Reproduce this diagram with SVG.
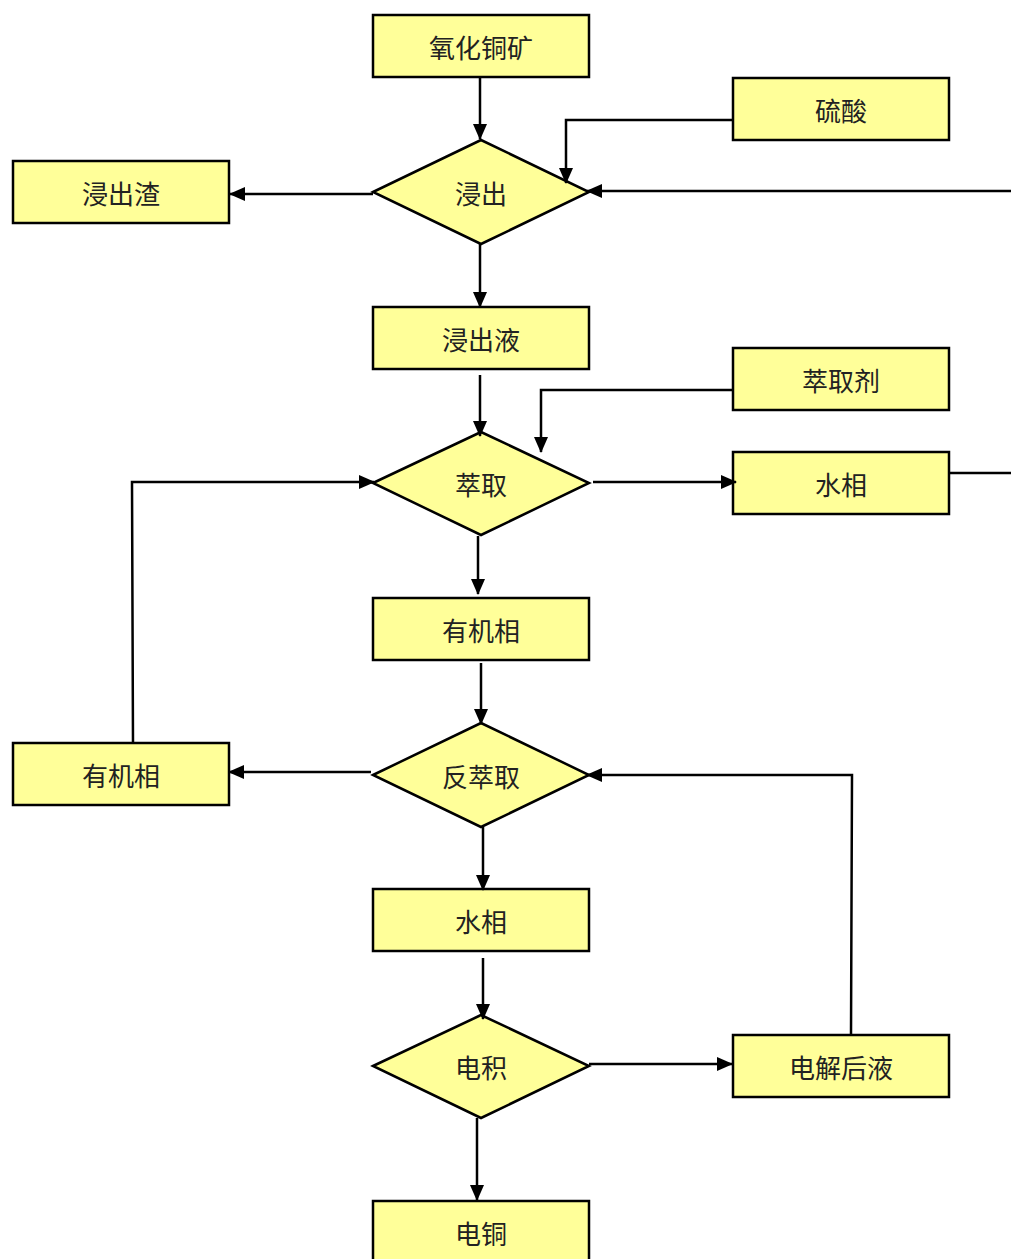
<svg xmlns="http://www.w3.org/2000/svg" width="1011" height="1259" viewBox="0 0 1011 1259">
<style>
.n{fill:#FFFF99;stroke:#000;stroke-width:2.5}
.t{font-family:"Noto Sans CJK SC",sans-serif;font-size:26px;fill:#222;text-anchor:middle;dominant-baseline:central}
.c{fill:none;stroke:#000;stroke-width:2.5}
</style>
<defs>
<marker id="a" markerUnits="userSpaceOnUse" markerWidth="16" markerHeight="14" refX="15" refY="7" orient="auto">
<path d="M0,0 L16,7 L0,14 Z" fill="#000"/>
</marker>
</defs>
<rect width="1011" height="1259" fill="#fff"/>
<g id="nodes">
<g id="n1"><rect class="n" x="373" y="15" width="216" height="62"/><text class="t" x="481" y="46">氧化铜矿</text></g>
<g id="n2"><rect class="n" x="733" y="78" width="216" height="62"/><text class="t" x="841" y="109">硫酸</text></g>
<g id="n3"><polygon class="n" points="373,192 481,140 589,192 481,244"/><text class="t" x="481" y="192">浸出</text></g>
<g id="n4"><rect class="n" x="13" y="161" width="216" height="62"/><text class="t" x="121" y="192">浸出渣</text></g>
<g id="n5"><rect class="n" x="373" y="307" width="216" height="62"/><text class="t" x="481" y="338">浸出液</text></g>
<g id="n6"><rect class="n" x="733" y="348" width="216" height="62"/><text class="t" x="841" y="379">萃取剂</text></g>
<g id="n7"><polygon class="n" points="373,483 481,432 589,483 481,535"/><text class="t" x="481" y="483">萃取</text></g>
<g id="n8"><rect class="n" x="733" y="452" width="216" height="62"/><text class="t" x="841" y="483">水相</text></g>
<g id="n9"><rect class="n" x="373" y="598" width="216" height="62"/><text class="t" x="481" y="629">有机相</text></g>
<g id="n10"><rect class="n" x="13" y="743" width="216" height="62"/><text class="t" x="121" y="774">有机相</text></g>
<g id="n11"><polygon class="n" points="373,775 481,723 589,775 481,827"/><text class="t" x="481" y="775">反萃取</text></g>
<g id="n12"><rect class="n" x="373" y="889" width="216" height="62"/><text class="t" x="481" y="920">水相</text></g>
<g id="n13"><polygon class="n" points="373,1066 481,1015 589,1066 481,1118"/><text class="t" x="481" y="1066">电积</text></g>
<g id="n14"><rect class="n" x="733" y="1035" width="216" height="62"/><text class="t" x="841" y="1066">电解后液</text></g>
<g id="n15"><rect class="n" x="373" y="1201" width="216" height="62"/><text class="t" x="481" y="1232">电铜</text></g>
</g>
<g id="connectors">
<path class="c" marker-end="url(#a)" d="M480,77 L480,139"/>
<path class="c" marker-end="url(#a)" d="M733,120 L566,120 L566,183"/>
<path class="c" marker-end="url(#a)" d="M1011,191 L587,191"/>
<path class="c" marker-end="url(#a)" d="M373,194 L230,194"/>
<path class="c" marker-end="url(#a)" d="M480,244 L480,307"/>
<path class="c" marker-end="url(#a)" d="M480,375 L480,436"/>
<path class="c" marker-end="url(#a)" d="M733,390 L541,390 L541,452"/>
<path class="c" marker-end="url(#a)" d="M593,482 L736,482"/>
<path class="c" d="M949,473 L1011,473"/>
<path class="c" marker-end="url(#a)" d="M478,536 L478,594"/>
<path class="c" marker-end="url(#a)" d="M481,663 L481,724"/>
<path class="c" marker-end="url(#a)" d="M371,772 L229,772"/>
<path class="c" marker-end="url(#a)" d="M133,743 L132,482 L374,482"/>
<path class="c" marker-end="url(#a)" d="M851,1035 L852,775 L587,775"/>
<path class="c" marker-end="url(#a)" d="M483,827 L483,890"/>
<path class="c" marker-end="url(#a)" d="M483,958 L483,1019"/>
<path class="c" marker-end="url(#a)" d="M589,1064 L732,1064"/>
<path class="c" marker-end="url(#a)" d="M477,1118 L477,1200"/>
</g>
</svg>
